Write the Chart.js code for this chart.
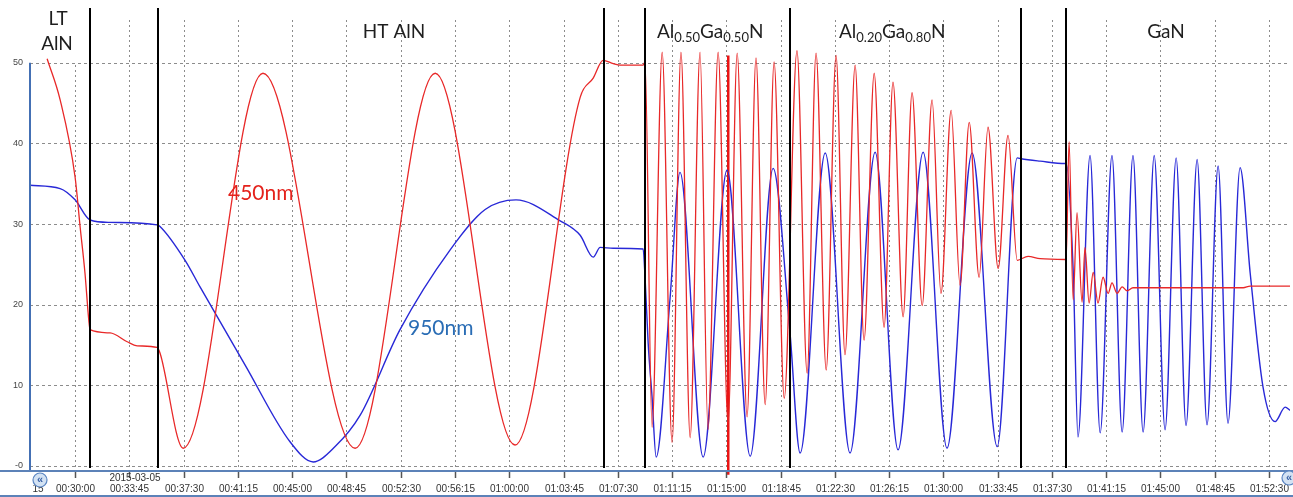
<!DOCTYPE html>
<html>
<head>
<meta charset="utf-8">
<script src="https://cdn.jsdelivr.net/npm/chart.js@4.4.1/dist/chart.umd.min.js"></script>
<style>
  html, body { margin: 0; padding: 0; background: #fff; }
  #wrap { width: 1293px; height: 497px; }
</style>
</head>
<body>
<div id="wrap"><canvas id="chart" width="1293" height="497"></canvas></div>
<script>
// time in seconds since 00:00:00
const redTimes = [1684, 1738, 1800, 1821, 1841, 1854, 1858, 1862, 1945, 2016, 2057, 2140, 2152, 2248, 2579, 2961, 3293, 3624, 3894, 3948, 3989, 4031, 4060, 4155, 4163,
  4192, 4234, 4275, 4312, 4350, 4391, 4424, 4466, 4507, 4545, 4586, 4623, 4661, 4698, 4740,
  4793, 4835, 4872, 4914, 4955, 4992, 5034, 5071, 5113, 5154, 5191, 5233, 5270, 5312, 5353, 5390, 5432, 5469, 5507, 5548, 5585, 5627, 5668, 5706, 5751, 5801, 5905,
  5909, 5921, 5938, 5954, 5975, 5987, 6004, 6021, 6041, 6062, 6083, 6099, 6120, 6141, 6162, 6186, 6643, 6672, 6837];
const redValues = [50.5, 45.4, 35.8, 29.6, 23.9, 19.0, 17.7, 16.9, 16.5, 15.4, 14.9, 14.7, 14.0, 2.2, 48.7, 2.2, 48.7, 2.6, 45.7, 48.1, 50.3, 49.9, 49.7, 49.7, 50.1,
  4.8, 51.3, 2.9, 51.3, 3.5, 51.3, 4.5, 51.3, 5.3, 51.2, 6.1, 50.6, 7.6, 50.1, 8.4,
  51.5, 11.5, 51.2, 11.9, 50.9, 13.8, 49.7, 15.6, 48.7, 17.2, 47.6, 18.5, 46.3, 19.9, 45.4, 21.4, 44.1, 22.4, 42.6, 23.4, 42.0, 24.5, 41.0, 25.5, 26.0, 25.7, 25.6,
  25.6, 40.2, 20.6, 31.4, 20.3, 27.1, 20.2, 24.0, 20.2, 23.4, 21.4, 22.7, 21.4, 22.2, 21.7, 22.1, 22.1, 22.3, 22.3];

const blueTimes = [1613, 1738, 1800, 1862, 1945, 2140, 2152, 2256, 2318, 2505, 2691, 2787, 2878, 2982, 3147, 3355, 3500, 3628, 3811, 3894, 3948, 3977, 4031, 4155,
  4163, 4176, 4192, 4209, 4267, 4308, 4404, 4503, 4599, 4694, 4764,
  4806, 4910, 5013, 5117, 5212, 5316, 5415, 5519, 5623, 5706, 5722, 5801, 5905,
  5909, 5938, 5958, 6008, 6050, 6099, 6141, 6186, 6228, 6274, 6319, 6365, 6406, 6452, 6493, 6539, 6580, 6630, 6672, 6725, 6775, 6817, 6837];
const blueValues = [34.8, 34.4, 33.0, 30.5, 30.2, 29.9, 29.7, 25.5, 22.2, 12.5, 3.0, 0.5, 2.4, 6.3, 16.9, 26.8, 31.8, 33.0, 30.4, 28.6, 25.9, 27.1, 27.0, 26.9,
  23.4, 15.2, 8.6, 1.1, 20.9, 36.4, 1.1, 36.7, 1.2, 36.9, 16.5,
  1.6, 38.8, 1.6, 38.9, 2.0, 38.9, 2.2, 38.8, 2.4, 38.2, 38.1, 37.8, 37.5,
  37.5, 24.3, 3.6, 38.5, 4.1, 38.5, 4.2, 38.5, 4.2, 38.5, 4.5, 38.2, 5.0, 38.0, 5.1, 37.2, 5.3, 37.0, 23.9, 9.8, 5.5, 7.3, 6.9];

// red event marker at 01:15:00
const markerTimes = [4508, 4508];
const markerValues = [50.9, -1.1];

// layer boundaries (s)
const layerBounds = [1862, 2144, 3993, 4163, 4764, 5722, 5909];

// axis ticks
const xTickTimes = [1800, 2025, 2250, 2475, 2700, 2925, 3150, 3375, 3600, 3825, 4050, 4275, 4500, 4725, 4950, 5175, 5400, 5625, 5850, 6075, 6300, 6525, 6750];
const yTicks = [0, 10, 20, 30, 40, 50];

function fmt(s) {
  const h = Math.floor(s / 3600), m = Math.floor((s % 3600) / 60), sec = Math.round(s % 60);
  const p = n => String(n).padStart(2, '0');
  return p(h) + ':' + p(m) + ':' + p(sec);
}

function toXY(ts, vs) {
  return ts.map((t, i) => ({ x: t, y: vs[i] }));
}

function drawSubLabel(ctx, x, parts) {
  let cx = x;
  parts.forEach(([txt, sub]) => {
    ctx.font = sub ? '13px Lato' : '19px Lato';
    ctx.fillText(txt, cx, sub ? 42 : 38);
    cx += ctx.measureText(txt).width;
  });
}

const decor = {
  id: 'decor',
  beforeDatasetsDraw(chart) {
    const { ctx, chartArea: a, scales: { x, y } } = chart;
    ctx.save();
    ctx.strokeStyle = '#8c8c8c';
    ctx.lineWidth = 1;
    ctx.setLineDash([3, 3]);
    yTicks.forEach(v => {
      const py = Math.round(y.getPixelForValue(v)) + 0.5;
      ctx.beginPath(); ctx.moveTo(a.left, py); ctx.lineTo(a.right, py); ctx.stroke();
    });
    ctx.setLineDash([2, 3]);
    xTickTimes.forEach(t => {
      const px = Math.round(x.getPixelForValue(t)) + 0.5;
      ctx.beginPath(); ctx.moveTo(px, a.top); ctx.lineTo(px, a.bottom); ctx.stroke();
    });
    ctx.setLineDash([]);
    // label box of LT AlN hides the grid there
    ctx.fillStyle = '#fff';
    ctx.fillRect(a.left + 1, 0, 57, 62);
    ctx.restore();
  },
  afterDatasetsDraw(chart) {
    const { ctx, chartArea: a, scales: { x } } = chart;
    ctx.save();
    ctx.strokeStyle = '#000';
    ctx.lineWidth = 2;
    layerBounds.forEach(t => {
      const px = Math.round(x.getPixelForValue(t));
      ctx.beginPath(); ctx.moveTo(px, 8); ctx.lineTo(px, a.bottom - 2); ctx.stroke();
    });
    ctx.restore();
  },
  afterDraw(chart) {
    const { ctx, chartArea: a, scales: { x, y } } = chart;
    ctx.save();
    // axis lines
    ctx.strokeStyle = '#4470b4';
    ctx.lineWidth = 2;
    ctx.beginPath(); ctx.moveTo(a.left, y.getPixelForValue(50)); ctx.lineTo(a.left, a.bottom + 1); ctx.stroke();
    ctx.strokeStyle = '#5c82b8';
    ctx.beginPath(); ctx.moveTo(0, a.bottom + 1); ctx.lineTo(chart.width, a.bottom + 1); ctx.stroke();
    ctx.beginPath(); ctx.moveTo(0, 496); ctx.lineTo(chart.width, 496); ctx.stroke();
    // x tick marks and labels
    ctx.strokeStyle = '#555';
    ctx.lineWidth = 1.5;
    ctx.fillStyle = '#333';
    ctx.font = '10px "Liberation Sans"';
    ctx.textAlign = 'center';
    ctx.textBaseline = 'middle';
    xTickTimes.forEach(t => {
      const px = Math.round(x.getPixelForValue(t)) + 0.5;
      ctx.beginPath(); ctx.moveTo(px, a.bottom + 2); ctx.lineTo(px, a.bottom + 8); ctx.stroke();
      ctx.fillText(fmt(t), px, 489);
    });
    ctx.fillText('2015-03-05', 135, 478);
    ctx.fillText('15', 38, 489);
    // scroll buttons
    [[40, 480], [1289, 478]].forEach(([cx, cy]) => {
      ctx.beginPath(); ctx.arc(cx, cy, 7, 0, Math.PI * 2);
      ctx.fillStyle = '#d3e2f3'; ctx.fill();
      ctx.strokeStyle = '#5a85c2'; ctx.lineWidth = 1.2; ctx.stroke();
      ctx.fillStyle = '#3a62a6';
      ctx.font = 'bold 11px "Liberation Sans"';
      ctx.fillText('«', cx, cy);
    });
    // layer names
    ctx.fillStyle = '#1e1e1e';
    ctx.textBaseline = 'alphabetic';
    ctx.font = '19px Lato';
    ctx.fillText('LT', 58, 25);
    ctx.fillText('AlN', 57, 50);
    ctx.fillText('HT AlN', 394, 38);
    ctx.fillText('GaN', 1166, 38);
    ctx.textAlign = 'left';
    drawSubLabel(ctx, 657, [['Al', 0], ['0.50', 1], ['Ga', 0], ['0.50', 1], ['N', 0]]);
    drawSubLabel(ctx, 839, [['Al', 0], ['0.20', 1], ['Ga', 0], ['0.80', 1], ['N', 0]]);
    // wavelength labels
    ctx.font = '21px Lato';
    ctx.fillStyle = '#e4221c';
    ctx.fillText('450nm', 228, 200);
    ctx.fillStyle = '#2a6db5';
    ctx.fillText('950nm', 408, 335);
    ctx.restore();
  }
};

new Chart(document.getElementById('chart'), {
  type: 'line',
  data: {
    datasets: [
      {
        label: '450nm',
        data: toXY(redTimes, redValues),
        borderColor: 'rgb(232,40,40)',
        borderWidth: 1.3,
        pointRadius: 0,
        cubicInterpolationMode: 'monotone',
      },
      {
        label: '950nm',
        data: toXY(blueTimes, blueValues),
        borderColor: 'rgb(40,40,215)',
        borderWidth: 1.4,
        pointRadius: 0,
        cubicInterpolationMode: 'monotone',
      },
      {
        label: 'marker',
        data: toXY(markerTimes, markerValues),
        borderColor: 'rgb(235,20,20)',
        borderWidth: 2.5,
        pointRadius: 0,
        clip: false,
      },
    ],
  },
  options: {
    responsive: false,
    animation: false,
    devicePixelRatio: 1,
    layout: { padding: { top: 20, right: 3, left: 0, bottom: 0 } },
    plugins: {
      legend: { display: false },
      tooltip: { enabled: false },
    },
    scales: {
      x: {
        type: 'linear',
        min: 1613,
        max: 6837,
        afterFit: s => { s.height = 27; },
        afterBuildTicks: s => { s.ticks = xTickTimes.map(v => ({ value: v })); },
        grid: { display: false, drawTicks: false },
        border: { display: false },
        ticks: { display: false },
      },
      y: {
        min: -0.5,
        max: 55.3,
        afterFit: s => { s.width = 30; },
        afterBuildTicks: s => { s.ticks = yTicks.map(v => ({ value: v })); },
        grid: { display: false, drawTicks: false },
        border: { display: false },
        ticks: {
          padding: 7,
          color: '#444',
          font: { family: 'Liberation Sans', size: 9 },
          callback: v => (v === 0 ? '-0' : v),
        },
      },
    },
  },
  plugins: [decor],
});
</script>
</body>
</html>
